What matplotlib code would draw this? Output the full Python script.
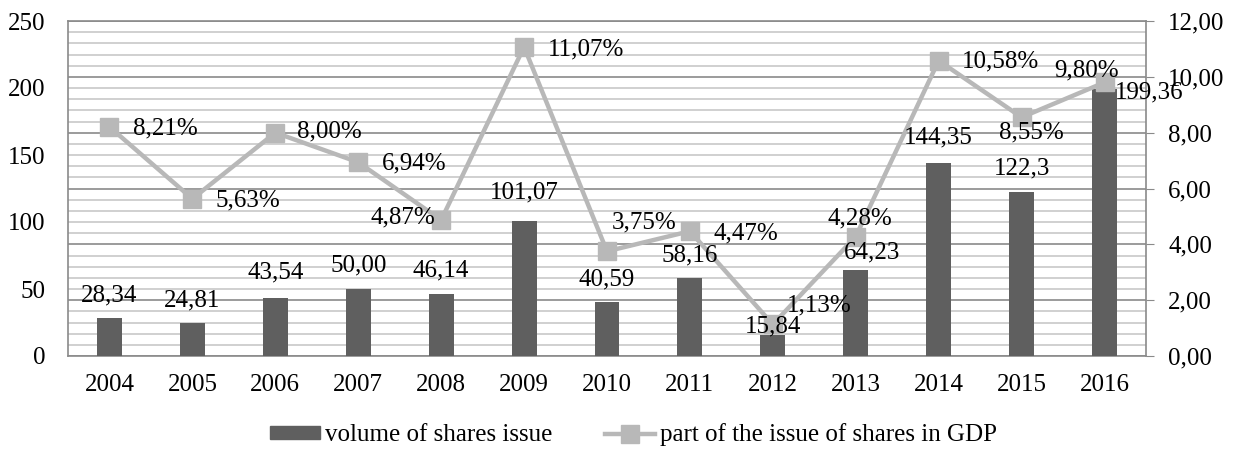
import matplotlib
matplotlib.use("Agg")
import matplotlib.pyplot as plt
import numpy as np
from matplotlib.patches import Patch
from matplotlib.lines import Line2D

years = ["2004", "2005", "2006", "2007", "2008", "2009", "2010",
         "2011", "2012", "2013", "2014", "2015", "2016"]
volume = [28.34, 24.81, 43.54, 50.00, 46.14, 101.07, 40.59,
          58.16, 15.84, 64.23, 144.35, 122.3, 199.36]
volume_labels = ["28,34", "24,81", "43,54", "50,00", "46,14", "101,07", "40,59",
                 "58,16", "15,84", "64,23", "144,35", "122,3", "199,36"]
share_gdp = [8.21, 5.63, 8.00, 6.94, 4.87, 11.07, 3.75,
             4.47, 1.13, 4.28, 10.58, 8.55, 9.80]
share_labels = ["8,21%", "5,63%", "8,00%", "6,94%", "4,87%", "11,07%", "3,75%",
                "4,47%", "1,13%", "4,28%", "10,58%", "8,55%", "9,80%"]
left_ticks = [0, 50, 100, 150, 200, 250]
right_ticks = [0, 2, 4, 6, 8, 10, 12]
right_tick_labels = ["0,00", "2,00", "4,00", "6,00", "8,00", "10,00", "12,00"]
legend_labels = ["volume of shares issue", "part of the issue of shares in GDP"]

# label placement (pixel offsets) -- styling only
bar_off = [(0, 23), (0, 22), (0, 25), (0, 24), (0, 24), (0, 28), (0, 22),
           (0, 23), (0, 8), (16, 17), (0, 25), (0, 24), (10, -4)]
bar_ha = ["center"] * 12 + ["left"]
line_off = [(24, -2), (23, -2), (22, 1), (24, -1), (-6, 3), (24, -2), (37, 29),
            (24, -2), (14, 19), (4, 18), (23, -1), (10, -15), (-18, 12)]
line_ha = ["left", "left", "left", "left", "right", "left", "center",
           "left", "left", "center", "left", "center", "center"]

FS = 18
plt.rcParams["font.family"] = ["Liberation Serif", "DejaVu Serif"]
plt.rcParams["font.size"] = FS

BAR_C = "#5f5f5f"
LINE_C = "#b8b8b8"
SPINE_C = "#8a8a8a"
MINOR_C = "#c8c8c8"

fig = plt.figure(figsize=(12.35, 4.5), dpi=100)
rect = [68 / 1235, 94 / 450, (1146 - 68) / 1235, (356 - 21) / 450]

# background axes: right scale + gridlines
axg = fig.add_axes(rect)
axg.set_zorder(0)
axg.set_ylim(0, 12)
axg.yaxis.tick_right()
axg.set_yticks(right_ticks)
axg.set_yticklabels(right_tick_labels)
axg.set_yticks(np.arange(0, 12.001, 0.4), minor=True)
axg.yaxis.grid(True, which="major", color=SPINE_C, lw=1.2)
axg.yaxis.grid(True, which="minor", color=MINOR_C, lw=1.2)
axg.tick_params(axis="y", which="major", direction="out", length=6,
                color=SPINE_C, pad=10, labelsize=FS)
axg.tick_params(axis="y", which="minor", length=0)
axg.set_xticks([])
for s in axg.spines.values():
    s.set_color(SPINE_C)
    s.set_linewidth(1.2)

# bars axes: left scale
ax = fig.add_axes(rect)
ax.set_zorder(1)
ax.patch.set_visible(False)
x = np.arange(len(years))
ax.bar(x, volume, width=0.3, color=BAR_C, zorder=2)
ax.set_xlim(-0.5, len(years) - 0.5)
ax.set_ylim(0, 250)
ax.set_yticks(left_ticks)
ax.set_xticks(x)
ax.set_xticklabels(years)
ax.tick_params(axis="y", length=0, pad=16, labelsize=FS)
ax.tick_params(axis="x", length=0, pad=13, labelsize=FS)
for s in ax.spines.values():
    s.set_visible(False)

# line axes: right scale
axl = fig.add_axes(rect, sharex=ax)
axl.set_zorder(2)
axl.patch.set_visible(False)
axl.set_ylim(0, 12)
axl.plot(x, share_gdp, color=LINE_C, lw=3.2, marker="s", markersize=13,
         markerfacecolor=LINE_C, markeredgecolor=LINE_C, zorder=3)
axl.axis("off")

for i, (v, lab) in enumerate(zip(volume, volume_labels)):
    axl.annotate(lab, (x[i], v), xycoords=ax.transData, xytext=bar_off[i],
                 textcoords="offset pixels", ha=bar_ha[i], va="center",
                 fontsize=FS, color="black", zorder=5, annotation_clip=False)
for i, (v, lab) in enumerate(zip(share_gdp, share_labels)):
    axl.annotate(lab, (x[i], v), xytext=line_off[i], textcoords="offset pixels",
                 ha=line_ha[i], va="center", fontsize=FS, color="black", zorder=5,
                 annotation_clip=False)

handles = [Patch(facecolor=BAR_C, edgecolor=BAR_C),
           Line2D([0], [0], color=LINE_C, lw=3.2, marker="s", markersize=13,
                  markerfacecolor=LINE_C, markeredgecolor=LINE_C)]
fig.legend(handles, legend_labels, loc="center", bbox_to_anchor=(0.513, 15 / 450),
           ncol=2, frameon=False, fontsize=FS, handlelength=2.0, handleheight=0.45,
           handletextpad=0.2, columnspacing=2.1, borderaxespad=0)

fig.savefig("out.png", dpi=100)
